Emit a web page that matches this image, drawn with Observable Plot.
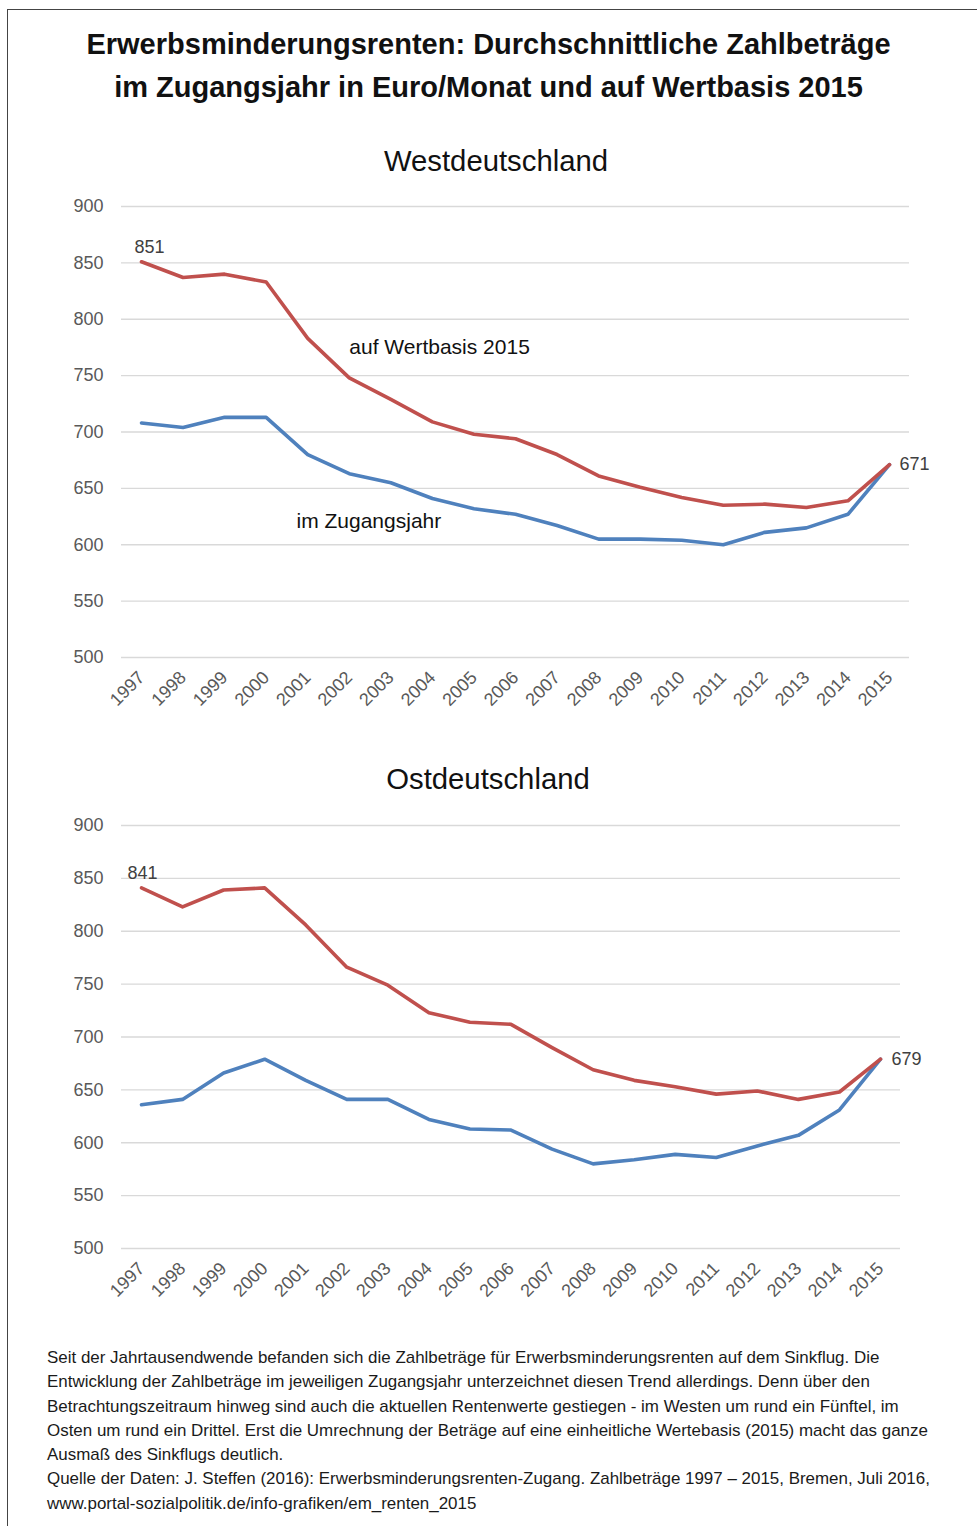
<!DOCTYPE html>
<html>
<head>
<meta charset="utf-8">
<script src="https://cdn.jsdelivr.net/npm/d3@7"></script>
<script src="https://cdn.jsdelivr.net/npm/@observablehq/plot@0.6"></script>
<style>
  html, body { margin: 0; padding: 0; background: #fff; }
  body { width: 977px; height: 1526px; position: relative; overflow: hidden; font-family: "Liberation Sans", Arial, sans-serif; }
  .frame { position: absolute; left: 7px; top: 9px; width: 2000px; height: 2000px; border: 1.6px solid #444; box-sizing: border-box; }
  .title { position: absolute; left: 0; width: 977px; top: 23px; text-align: center; font-weight: bold; font-size: 29px; line-height: 43px; color: #111; }
  .sub { position: absolute; font-size: 29.3px; line-height: 34px; color: #111; white-space: nowrap; transform: translateX(-50%); }
  .chart { position: absolute; left: 0; }
  .caption { position: absolute; left: 47px; top: 1346px; width: 930px; font-size: 16.95px; line-height: 24.3px; color: #1a1a1a; white-space: nowrap; }
</style>
</head>
<body>
<div class="frame"></div>
<div class="title">Erwerbsminderungsrenten: Durchschnittliche Zahlbeträge<br>im Zugangsjahr in Euro/Monat und auf Wertbasis 2015</div>
<div class="sub" style="left:496px; top:144px;">Westdeutschland</div>
<div id="west" class="chart" style="top:180px;"></div>
<div class="sub" style="left:488px; top:762px;">Ostdeutschland</div>
<div id="east" class="chart" style="top:800px;"></div>
<div class="caption">Seit der Jahrtausendwende befanden sich die Zahlbeträge für Erwerbsminderungsrenten auf dem Sinkflug. Die<br>Entwicklung der Zahlbeträge im jeweiligen Zugangsjahr unterzeichnet diesen Trend allerdings. Denn über den<br>Betrachtungszeitraum hinweg sind auch die aktuellen Rentenwerte gestiegen - im Westen um rund ein Fünftel, im<br>Osten um rund ein Drittel. Erst die Umrechnung der Beträge auf eine einheitliche Wertebasis (2015) macht das ganze<br>Ausmaß des Sinkflugs deutlich.<br>Quelle der Daten: J. Steffen (2016): Erwerbsminderungsrenten-Zugang. Zahlbeträge 1997 – 2015, Bremen, Juli 2016,<br>www.portal-sozialpolitik.de/info-grafiken/em_renten_2015</div>
<script>
// ---- Data ----
const years = [1997,1998,1999,2000,2001,2002,2003,2004,2005,2006,2007,2008,2009,2010,2011,2012,2013,2014,2015];
const yTicks = [500,550,600,650,700,750,800,850,900];

const westWertbasis = [851,837,840,833,783,748,729,709,698,694,680,661,651,642,635,636,633,639,671];
const westZugang    = [708,704,713,713,680,663,655,641,632,627,617,605,605,604,600,611,615,627,671];

const eastWertbasis = [841,823,839,841,806,766,749,723,714,712,690,669,659,653,646,649,641,648,679];
const eastZugang    = [636,641,666,679,659,641,641,622,613,612,594,580,584,589,586,597,607,631,679];

const seriesNames = ["auf Wertbasis 2015", "im Zugangsjahr"];
// annotation anchor points (year, value) for series labels in the West chart
const westSeriesLabelX = [2002.0, 2000.73];
const westSeriesLabelY = [775, 620.5];

const RED = "#c0504d";
const BLUE = "#4f81bd";
const FONT = "'Liberation Sans', Arial, sans-serif";

function rows(vals) { return years.map((y, i) => ({year: y, value: vals[i]})); }

function makeChart({red, blue, height, marginTop, marginBottom, marginRight, firstDx, lastDx, seriesLabels}) {
  const redRows = rows(red), blueRows = rows(blue);
  const first = [redRows[0]], last = [redRows[redRows.length - 1]];
  const marks = [
    Plot.gridY(yTicks, {stroke: "#d9d9d9", strokeOpacity: 1, strokeWidth: 1.4}),
    Plot.axisY(yTicks, {tickSize: 0, tickPadding: 18, fontSize: 18, label: null}),
    Plot.axisX(years, {tickSize: 0, tickPadding: 17, tickRotate: -45, fontSize: 18, tickFormat: d => String(d), label: null}),
    Plot.lineY(blueRows, {x: "year", y: "value", stroke: BLUE, strokeWidth: 3.6, strokeLinejoin: "round", strokeLinecap: "round"}),
    Plot.lineY(redRows, {x: "year", y: "value", stroke: RED, strokeWidth: 3.6, strokeLinejoin: "round", strokeLinecap: "round"}),
    Plot.text(first, {x: "year", y: "value", text: d => String(d.value), dx: firstDx, dy: -15, fontSize: 18, fill: "#404040"}),
    Plot.text(last, {x: "year", y: "value", text: d => String(d.value), dx: lastDx, textAnchor: "start", fontSize: 18, fill: "#404040"})
  ];
  if (seriesLabels) {
    marks.push(Plot.text(seriesNames.map((n, i) => ({name: n, x: westSeriesLabelX[i], y: westSeriesLabelY[i]})),
      {x: "x", y: "y", text: "name", textAnchor: "start", fontSize: 21, fill: "#111"}));
  }
  return Plot.plot({
    width: 977,
    height,
    marginLeft: 121,
    marginRight,
    marginTop,
    marginBottom,
    style: {fontFamily: FONT, color: "#595959", background: "transparent", overflow: "visible"},
    x: {type: "linear", domain: [1997, 2015], inset: 20, label: null},
    y: {domain: [500, 900], label: null},
    marks
  });
}

document.getElementById("west").append(makeChart({
  red: westWertbasis, blue: westZugang, height: 560, marginTop: 26, marginBottom: 83, marginRight: 68,
  firstDx: 8, lastDx: 10, seriesLabels: true
}));
document.getElementById("east").append(makeChart({
  red: eastWertbasis, blue: eastZugang, height: 540, marginTop: 25, marginBottom: 92, marginRight: 77,
  firstDx: 1, lastDx: 11, seriesLabels: false
}));
</script>
</body>
</html>
